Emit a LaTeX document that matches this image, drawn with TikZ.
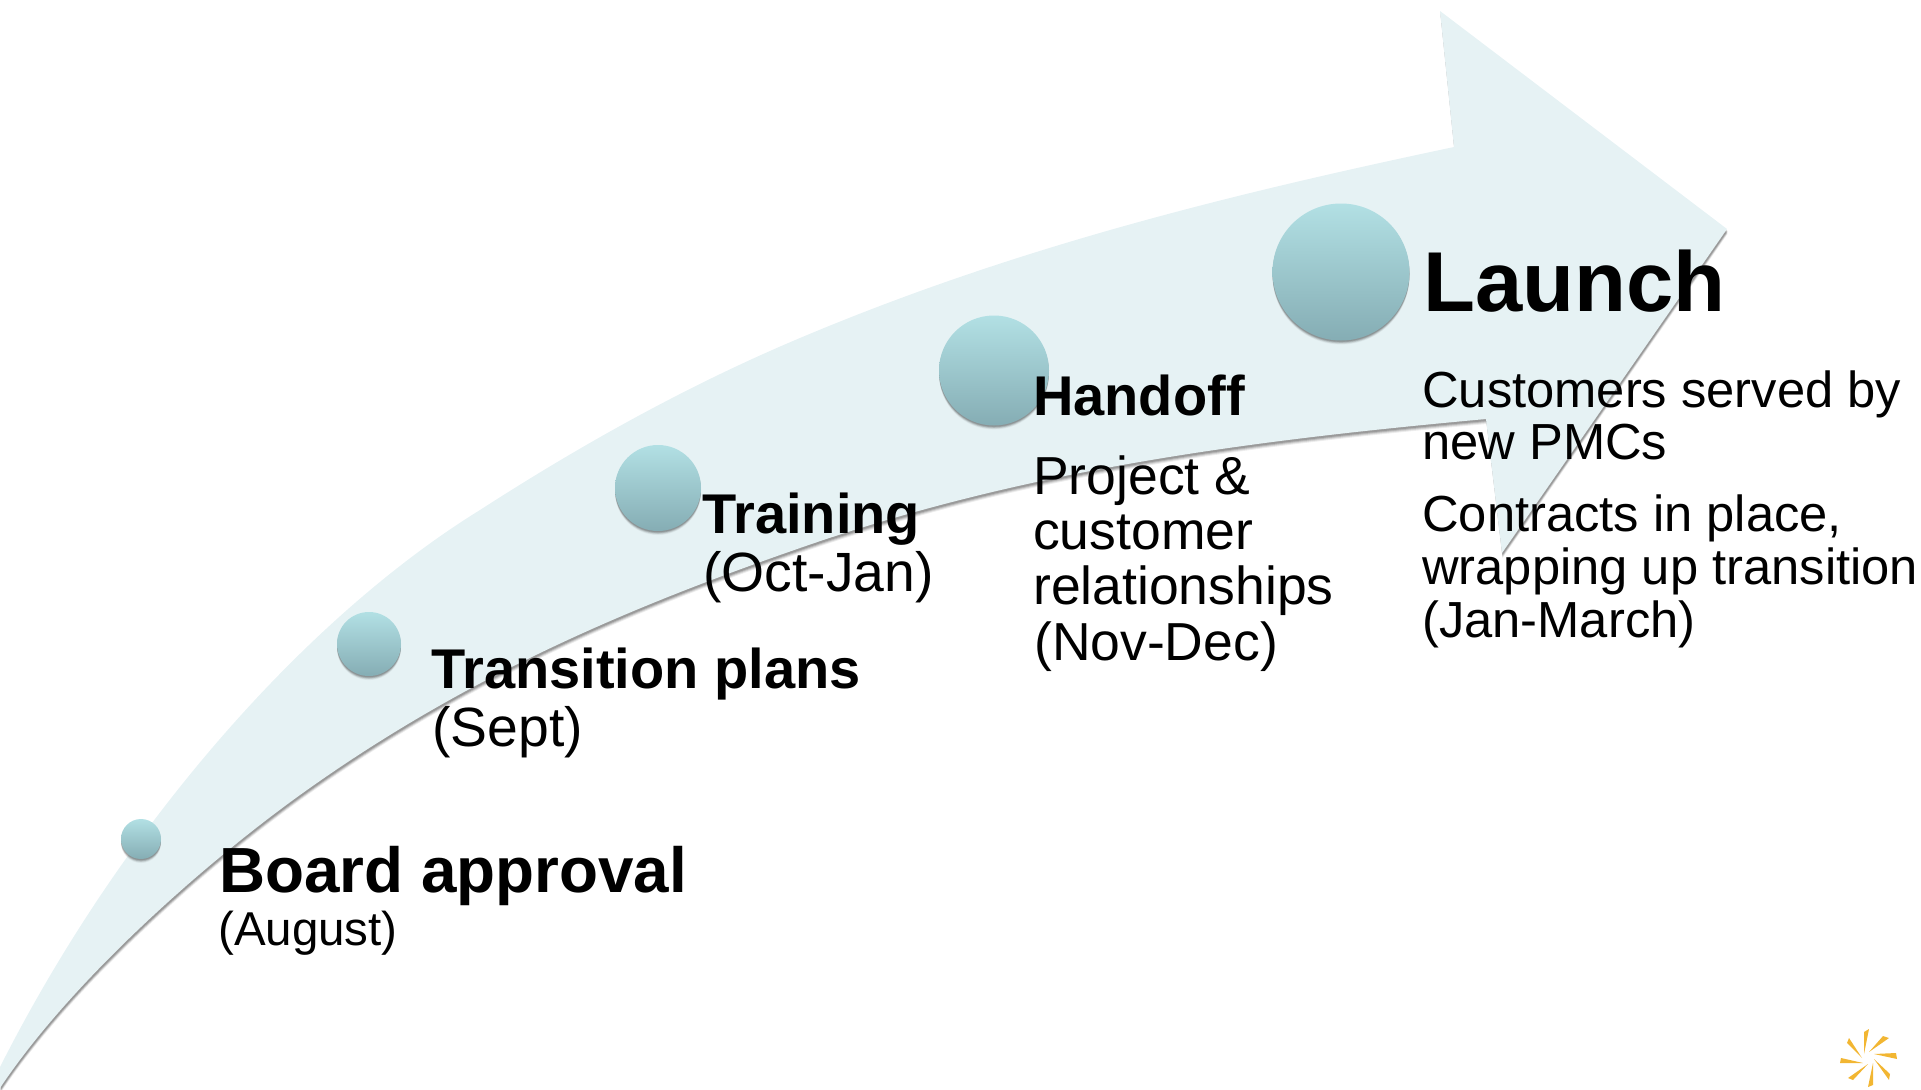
\documentclass[tikz,border=0pt]{standalone}
\usepackage{fontspec}
\setmainfont{Liberation Sans}
\definecolor{arrowfill}{HTML}{E6F2F4}
\definecolor{balltop}{HTML}{B2E0E4}
\definecolor{ballbot}{HTML}{85ADB4}
\definecolor{spark}{HTML}{F2B632}
\tikzset{
  x=1pt,y=-1pt,
  ball/.style={circle,draw=none,inner sep=0pt,top color=balltop,bottom color=ballbot,shading angle=0},
  lbl/.style={anchor=base west,inner sep=0pt,text=black},
  big/.style={lbl,font=\bfseries\fontsize{85}{90}\selectfont},
  head/.style={lbl,font=\bfseries\fontsize{56}{60}\selectfont},
  headb/.style={lbl,font=\bfseries\fontsize{63.8}{70}\selectfont},
  body/.style={lbl,font=\fontsize{55.3}{60}\selectfont},
  bodym/.style={lbl,font=\fontsize{53.5}{60}\selectfont},
  bodyl/.style={lbl,font=\fontsize{50.7}{60}\selectfont},
  small/.style={lbl,font=\fontsize{47.5}{50}\selectfont},
  petal/.style={fill=spark,draw=none},
}
\newcommand{\arrowpath}{
  (0,1067) .. controls (125,820) and (310,615) .. (480,510)
  .. controls (587,441) and (693,383) .. (800,338)
  .. controls (1018,246) and (1236,193) .. (1454,147)
  -- (1440,11) -- (1727,229) -- (1502,553) -- (1486,419)
  .. controls (1257,440) and (1029,468) .. (800,548)
  .. controls (633,606) and (467,675) .. (300,795)
  .. controls (200,867) and (70,983) .. (0,1088)
  -- cycle
}
\newcommand{\ballat}[4]{% name, x, y, r
  \foreach \d/\o in {1/.10,2/.10,3/.10,4/.07,5/.05,6/.03}{
    \fill[black,opacity=\o] (#2,#3+\d*0.6+0.5) circle[radius=#4];
  }
  \node[ball,minimum size=#4*2pt] (#1) at (#2,#3) {};
}
\begin{document}
\begin{tikzpicture}
\useasboundingbox (0,0) rectangle (1921,1089);
% arrow and its soft shadow
\begin{scope}[shift={(0.5,5)}]\fill[black,opacity=.07] \arrowpath;\end{scope}
\begin{scope}[shift={(0.5,4)}]\fill[black,opacity=.10] \arrowpath;\end{scope}
\begin{scope}[shift={(0.5,3)}]\fill[black,opacity=.14] \arrowpath;\end{scope}
\begin{scope}[shift={(0.5,2)}]\fill[black,opacity=.16] \arrowpath;\end{scope}
\fill[arrowfill] \arrowpath;
% balls
\ballat{b1}{141}{839}{20}
\ballat{b2}{369}{644}{32}
\ballat{b3}{658}{488}{43}
\ballat{b4}{994}{370.5}{55}
\ballat{b5}{1341}{272}{68.5}
% labels
\node[headb] (t1) at (219,892) {Board approval};
\node[small] (t1a) at (218,945) {(August)};
\node[head] (t2) at (431,688) {Transition plans};
\node[body] (t2a) at (432,746) {(Sept)};
\node[head] (t3) at (702,533) {Training};
\node[body] (t3a) at (703,591) {(Oct-Jan)};
\node[head] (t4) at (1033,415) {Handoff};
\node[bodym] (t4a) at (1033,494) {Project \&};
\node[bodym] (t4b) at (1033,549) {customer};
\node[bodym] (t4c) at (1033,604) {relationships};
\node[bodym] (t4d) at (1034,660) {(Nov-Dec)};
\node[big] (t5) at (1423,311) {Launch};
\node[bodyl] (t5a) at (1422,407) {Customers served by};
\node[bodyl] (t5b) at (1422,459) {new PMCs};
\node[bodyl] (t5c) at (1422,531) {Contracts in place,};
\node[bodyl] (t5d) at (1422,584) {wrapping up transition};
\node[bodyl] (t5e) at (1422,637) {(Jan-March)};
% logo
\fill[petal] (1864,1054) -- (1864,1032) -- (1869,1029) -- cycle;
\fill[petal] (1869,1052) -- (1883,1036) -- (1889,1038) -- cycle;
\fill[petal] (1874,1054) -- (1896,1053) -- (1897,1059) -- cycle;
\fill[petal] (1874,1059) -- (1890,1074) -- (1889,1080) -- cycle;
\fill[petal] (1873,1063) -- (1873,1085) -- (1868,1087) -- cycle;
\fill[petal] (1868,1064) -- (1853,1080) -- (1848,1078) -- cycle;
\fill[petal] (1863,1063) -- (1841,1058) -- (1840,1063) -- cycle;
\fill[petal] (1862,1058) -- (1847,1043) -- (1849,1038) -- cycle;
\end{tikzpicture}
\end{document}
